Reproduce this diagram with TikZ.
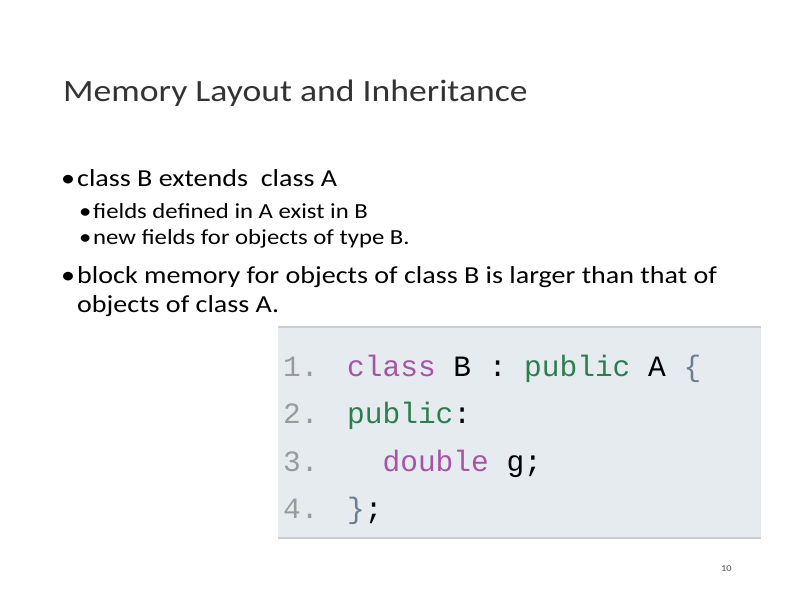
\documentclass[tikz,border=0pt]{standalone}
\usepackage{fontspec}
\setmainfont{Carlito}[FakeStretch=1.15]
\newfontfamily\codefont{Liberation Mono}
\definecolor{codebg}{HTML}{E6EBEF}
\definecolor{codeline}{HTML}{C8CED3}
\definecolor{kwpurple}{HTML}{A654A6}
\definecolor{kwgreen}{HTML}{2E7D4F}
\definecolor{numgray}{HTML}{9A9A9A}
\definecolor{brace}{HTML}{6A7F96}
\begin{document}
\begin{tikzpicture}[x=1pt,y=-1pt,
  txt/.style={anchor=base west,inner sep=0pt},
  title/.style={txt,font=\fontsize{31}{36}\selectfont,text=black!80},
  lvl1/.style={txt,font=\fontsize{24.4}{27}\selectfont},
  lvl2/.style={txt,font=\fontsize{21.5}{22}\selectfont},
  code/.style={txt,font=\codefont\fontsize{29.5}{34}\selectfont}]
\useasboundingbox (0,0) rectangle (794,595);
\node[title] (t) at (63,101) {Memory Layout and Inheritance};
\node[lvl1] (b1d) at (61,186) {•};
\node[lvl1] (b1) at (77,186) {class B extends\ \ class A};
\node[lvl2] (s1d) at (79,218) {•};
\node[lvl2] (s1) at (93,218) {fields defined in A exist in B};
\node[lvl2] (s2d) at (79,244) {•};
\node[lvl2] (s2) at (93,244) {new fields for objects of type B.};
\node[lvl1] (b2d) at (61,283) {•};
\node[lvl1] (b2) at (77,283) {block memory for objects of class B is larger than that of};
\node[lvl1] (b2b) at (77,312) {objects of class A.};
\fill[codebg] (278,327) rectangle (761,538);
\draw[codeline,line width=1.5pt] (278,327) -- (761,327);
\draw[codeline,line width=1.5pt] (278,538) -- (761,538);
\node[code,text=numgray] (n1) at (283,376) {1.};
\node[code,text=numgray] (n2) at (283,423) {2.};
\node[code,text=numgray] (n3) at (283,471) {3.};
\node[code,text=numgray] (n4) at (283,518) {4.};
\node[code] (c1) at (347,376) {\textcolor{kwpurple}{class} B : \textcolor{kwgreen}{public} A \textcolor{brace}{\{}};
\node[code] (c2) at (347,423) {\textcolor{kwgreen}{public}:};
\node[code] (c3) at (347,471) {\ \ \textcolor{kwpurple}{double} g;};
\node[code] (c4) at (347,518) {\textcolor{brace}{\}};};
\node[txt,font=\fontsize{9}{11}\selectfont,text=black!70] (pg) at (721,571) {10};
\end{tikzpicture}
\end{document}
